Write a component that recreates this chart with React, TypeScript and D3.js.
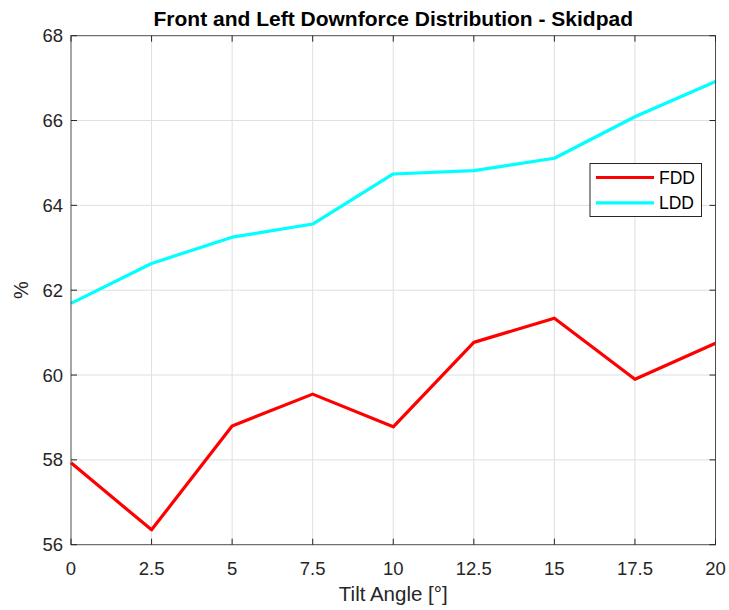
import React from "react";
import * as d3 from "d3";

// Tilt angle samples (degrees)
const tiltAngles = [0, 2.5, 5, 7.5, 10, 12.5, 15, 17.5, 20];
// Front downforce distribution (%)
const fddValues = [57.93, 56.35, 58.8, 59.55, 58.78, 60.77, 61.34, 59.9, 60.75];
// Left downforce distribution (%)
const lddValues = [61.69, 62.63, 63.25, 63.56, 64.74, 64.82, 65.11, 66.09, 66.92];

const xTicks = [0, 2.5, 5, 7.5, 10, 12.5, 15, 17.5, 20];
const yTicks = [56, 58, 60, 62, 64, 66, 68];

const seriesNames = ["FDD", "LDD"];
const seriesColors = ["#ff0000", "#00ffff"];

const W = 729;
const H = 610;
const left = 71;
const right = 715.5;
const top = 35.7;
const bottom = 544.7;

const FONT = "'Liberation Sans', Arial, Helvetica, sans-serif";
const TEXT = "#262626";

export default function App() {
  const x = d3.scaleLinear().domain([0, 20]).range([left, right]);
  const y = d3.scaleLinear().domain([56, 68]).range([bottom, top]);

  const line = d3
    .line<[number, number]>()
    .x((d) => x(d[0]))
    .y((d) => y(d[1]));

  const series = [fddValues, lddValues].map((vals) =>
    vals.map((v, i) => [tiltAngles[i], v] as [number, number])
  );

  const tickLen = 6;

  return (
    <svg
      width={W}
      height={H}
      style={{ position: "absolute", left: 0, top: 0, background: "#fff" }}
      fontFamily={FONT}
    >
      <rect x={0} y={0} width={W} height={H} fill="#fff" />
      <rect x={left} y={top} width={right - left} height={bottom - top} fill="#fff" />

      {/* grid */}
      <g stroke="#dfdfdf" strokeWidth={1}>
        {xTicks.slice(1, -1).map((t) => (
          <line key={"gx" + t} x1={x(t)} x2={x(t)} y1={top} y2={bottom} />
        ))}
        {yTicks.slice(1, -1).map((t) => (
          <line key={"gy" + t} x1={left} x2={right} y1={y(t)} y2={y(t)} />
        ))}
      </g>

      {/* data lines */}
      {series.map((pts, i) => (
        <path
          key={seriesNames[i]}
          d={line(pts) || ""}
          fill="none"
          stroke={seriesColors[i]}
          strokeWidth={3.2}
          strokeLinejoin="round"
        />
      ))}

      {/* axes box and ticks */}
      <g stroke="#262626" strokeWidth={1}>
        <rect
          x={left}
          y={top}
          width={right - left}
          height={bottom - top}
          fill="none"
          stroke="#4d4d4d"
        />
        {xTicks.map((t) => (
          <g key={"tx" + t}>
            <line x1={x(t)} x2={x(t)} y1={bottom} y2={bottom - tickLen} />
            <line x1={x(t)} x2={x(t)} y1={top} y2={top + tickLen} />
          </g>
        ))}
        {yTicks.map((t) => (
          <g key={"ty" + t}>
            <line x1={left} x2={left + tickLen} y1={y(t)} y2={y(t)} />
            <line x1={right} x2={right - tickLen} y1={y(t)} y2={y(t)} />
          </g>
        ))}
      </g>

      {/* tick labels */}
      <g fill={TEXT} fontSize={18.5}>
        {xTicks.map((t) => (
          <text key={"lx" + t} x={x(t)} y={bottom + 30} textAnchor="middle">
            {String(t)}
          </text>
        ))}
        {yTicks.map((t) => (
          <text
            key={"ly" + t}
            x={left - 8}
            y={y(t)}
            textAnchor="end"
            dominantBaseline="central"
          >
            {String(t)}
          </text>
        ))}
      </g>

      {/* axis labels and title */}
      <text
        x={(left + right) / 2}
        y={bottom + 56}
        textAnchor="middle"
        fontSize={20.5}
        fill={TEXT}
      >
        Tilt Angle [°]
      </text>
      <text
        transform={`translate(28, ${(top + bottom) / 2}) rotate(-90)`}
        textAnchor="middle"
        fontSize={20}
        fill={TEXT}
      >
        %
      </text>
      <text
        x={(left + right) / 2}
        y={25.7}
        textAnchor="middle"
        fontSize={21}
        fontWeight="bold"
        fill="#000"
      >
        Front and Left Downforce Distribution - Skidpad
      </text>

      {/* legend */}
      <g>
        <rect x={590} y={163.5} width={111.5} height={53} fill="#fff" stroke="#262626" strokeWidth={1} />
        {seriesNames.map((name, i) => {
          const ly = 177.5 + i * 25.3;
          return (
            <g key={"lg" + name}>
              <line x1={596} x2={654} y1={ly} y2={ly} stroke={seriesColors[i]} strokeWidth={3.2} />
              <text x={659} y={ly} dominantBaseline="central" fontSize={17.5} fill="#000">
                {name}
              </text>
            </g>
          );
        })}
      </g>
    </svg>
  );
}
